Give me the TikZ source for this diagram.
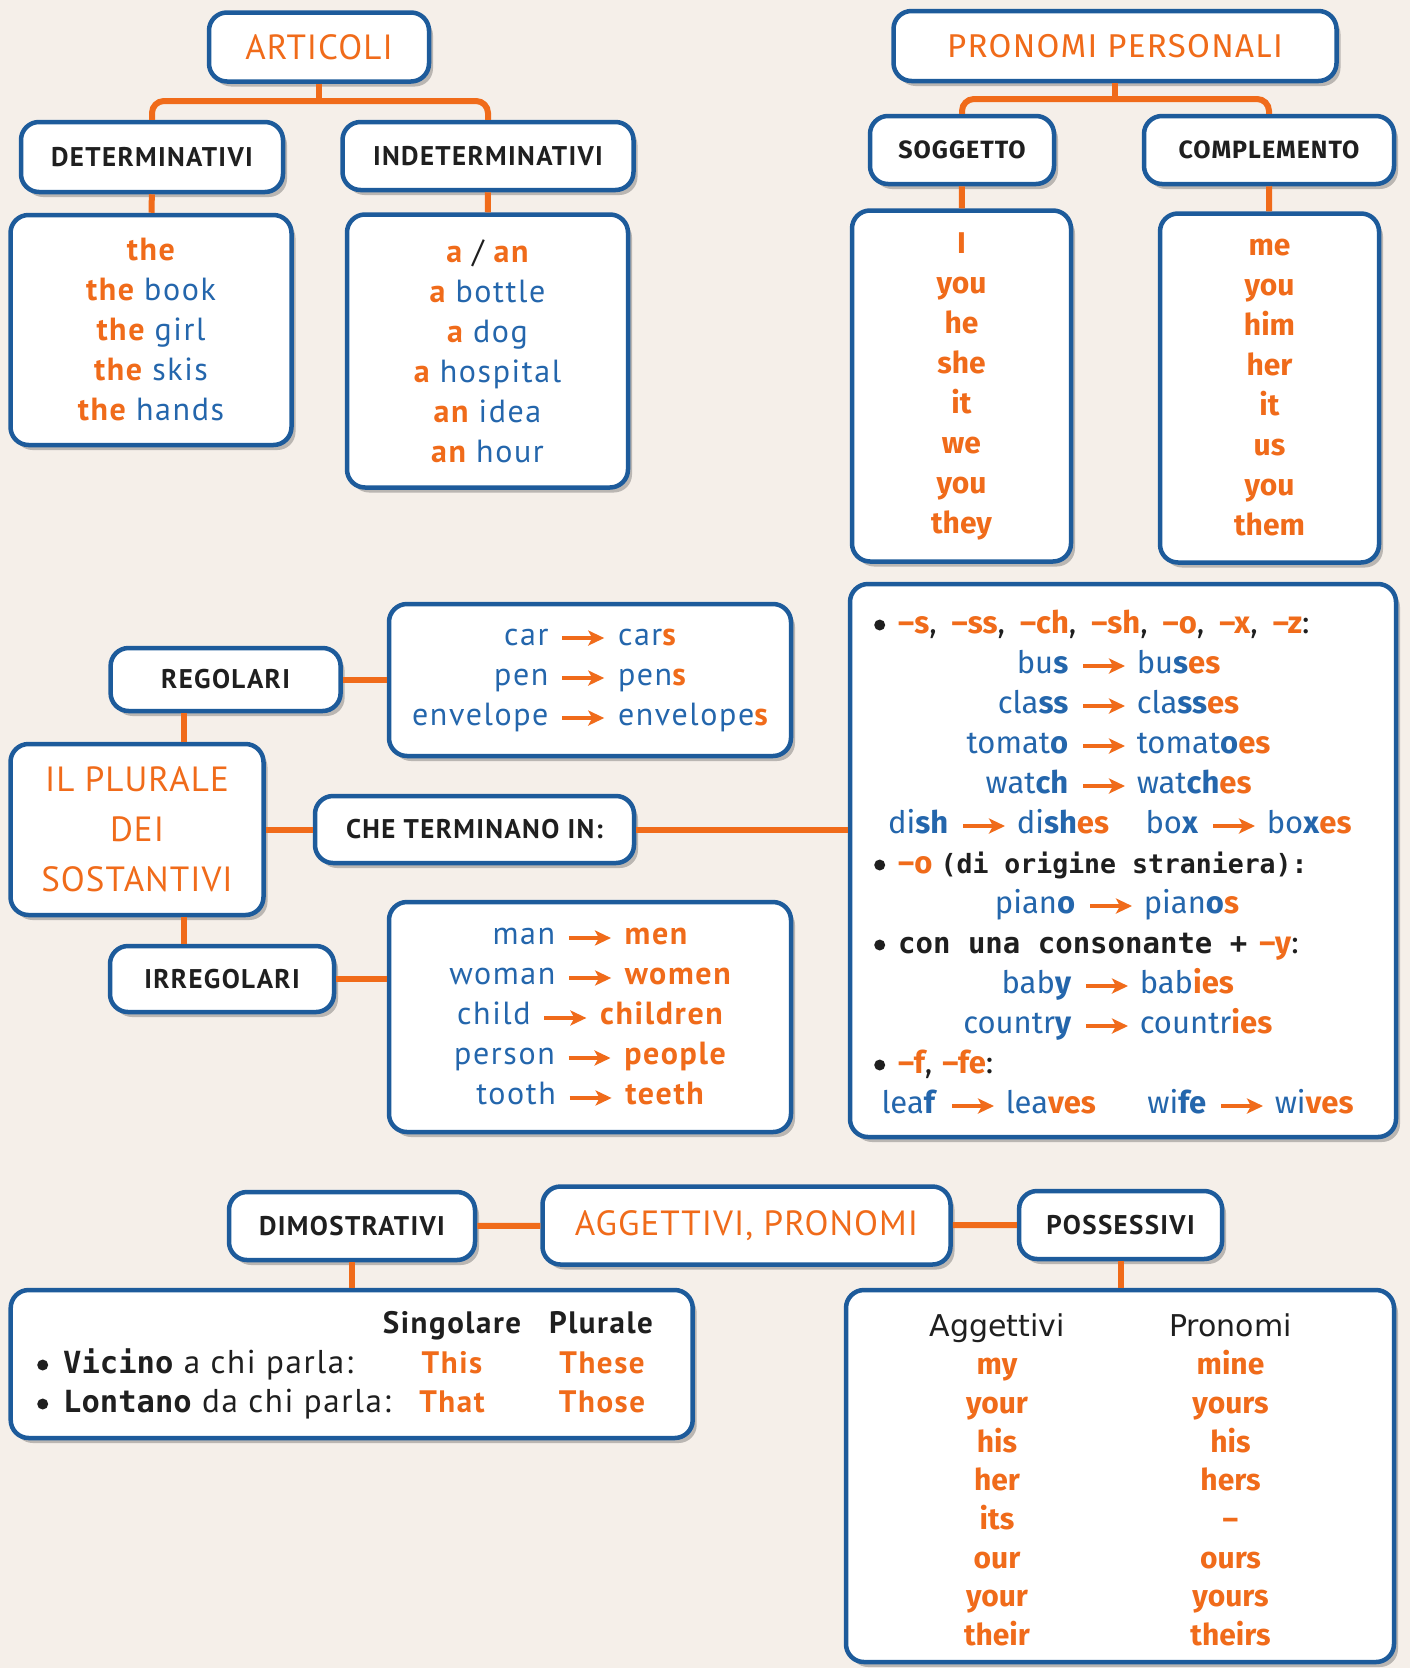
\documentclass[tikz,border=0pt]{standalone}
\usepackage{fontspec}
\setmainfont{PT Sans}[LetterSpace=5]
\newfontfamily\capsfont{PT Sans}[LetterSpace=3]
\newfontfamily\headfont{PT Sans}[LetterSpace=5]
\newfontfamily\widefont{Fira Sans}
\newfontfamily\widecaps{Fira Sans}[LetterSpace=4]
\newfontfamily\monofont{DejaVu Sans Mono}
\newfontfamily\colfont{DejaVu Sans}
\usetikzlibrary{arrows.meta,shadows}

\definecolor{paper}{HTML}{F5EFE9}
\definecolor{frame}{HTML}{1D5B9B}
\definecolor{accent}{HTML}{F06B1A}
\definecolor{word}{HTML}{2466AC}
\definecolor{ink}{HTML}{1F1F1F}
\definecolor{shade}{HTML}{BAB6B2}

\newcommand\orn[1]{{\color{accent}\bfseries#1}}
\newcommand\blu[1]{{\color{word}#1}}
\newcommand\parrow{\tikz[baseline=-7pt]\draw[accent,line width=3.5pt,-{Stealth[length=16pt,width=15pt,inset=4pt]}] (0pt,0pt) -- (42pt,0pt);}
\newcommand\dotmark{\tikz[baseline=-8pt]\fill[ink] (0pt,0pt) circle (5.5pt);}
\newcommand\pair[2]{#1\hspace{12pt}\parrow\hspace{12pt}#2}
\newcommand\arrowpair[2]{\llap{#1\hspace{13pt}}\parrow\rlap{\hspace{10pt}#2}}

\tikzset{
  box/.style={draw=frame,line width=4.5pt,fill=white,rounded corners=18pt,inner sep=0pt,
    drop shadow={shadow xshift=4pt,shadow yshift=-5pt,fill=shade,opacity=1}},
  title/.style={box,text=accent,align=center,font=\capsfont\fontsize{35}{50}\selectfont},
  head/.style={box,text=ink,font=\headfont\bfseries\fontsize{27}{30}\selectfont},
  widehead/.style={box,text=ink,font=\widecaps\bfseries\fontsize{25}{28}\selectfont},
  list/.style={box,align=center,text=ink,font=\fontsize{32}{40}\selectfont},
  widelist/.style={box,align=center,text=accent,font=\widefont\bfseries\fontsize{30}{40}\selectfont},
  link/.style={draw=accent,line width=6pt},
  row/.style={inner sep=0pt,anchor=base,text=word,font=\widefont\fontsize{31}{40}\selectfont},
  bulletrow/.style={row,anchor=base west,text=ink},
  cell/.style={inner sep=0pt,anchor=base,text=ink,font=\fontsize{33}{38}\selectfont},
  headcell/.style={cell,font=\bfseries\fontsize{31}{38}\selectfont},
  pick/.style={cell,text=accent,font=\bfseries\fontsize{31}{38}\selectfont},
  column/.style={inner sep=0pt,anchor=north,align=center,text=accent,font=\widefont\bfseries\fontsize{30}{38.7}\selectfont},
}

\begin{document}
\begin{tikzpicture}[x=1pt,y=-1pt]
\useasboundingbox (0,0) rectangle (1410,1668);
\fill[paper] (0,0) rectangle (1410,1668);

\node[title,minimum width=220pt,minimum height=69pt] (art) at (319,47) {ARTICOLI};
\node[head,minimum width=262pt,minimum height=70pt] (det) at (152,157) {DETERMINATIVI};
\node[head,minimum width=291pt,minimum height=68pt] (indet) at (488,156) {INDETERMINATIVI};
\node[list,minimum width=281pt,minimum height=230pt] (detlist) at (151,330)
  {\orn{the}\\\orn{the} \blu{book}\\\orn{the} \blu{girl}\\\orn{the} \blu{skis}\\\orn{the} \blu{hands}};
\node[list,minimum width=281pt,minimum height=273pt] (indetlist) at (487.5,351)
  {\orn{a}\hspace{10pt}/\hspace{10pt}\orn{an}\\\orn{a} \blu{bottle}\\\orn{a} \blu{dog}\\\orn{a} \blu{hospital}\\\orn{an} \blu{idea}\\\orn{an} \blu{hour}};

\node[title,font=\widecaps\fontsize{33}{36}\selectfont,minimum width=443pt,minimum height=70pt] (pron) at (1115,46) {PRONOMI PERSONALI};
\node[widehead,minimum width=184pt,minimum height=68pt] (sogg) at (962,150) {SOGGETTO};
\node[widehead,minimum width=250pt,minimum height=68pt] (compl) at (1269,150) {COMPLEMENTO};
\node[widelist,minimum width=219pt,minimum height=351pt] (sogglist) at (961.5,386)
  {I\\you\\he\\she\\it\\we\\you\\they};
\node[widelist,minimum width=219pt,minimum height=349pt] (compllist) at (1269.5,388)
  {me\\you\\him\\her\\it\\us\\you\\them};

\node[head,minimum width=230pt,minimum height=63pt] (reg) at (225.6,679.5) {REGOLARI};
\node[title,minimum width=253pt,minimum height=171pt] (plural) at (137,829.5) {IL PLURALE\\DEI\\SOSTANTIVI};
\node[head,minimum width=224pt,minimum height=66pt] (irr) at (222,979) {IRREGOLARI};
\node[head,minimum width=319pt,minimum height=67pt] (ending) at (474.5,829.5) {CHE TERMINANO IN:};
\node[list,minimum width=402pt,minimum height=152pt] (reglist) at (590,680)
  {\pair{\blu{car}}{\blu{car}\orn{s}}\\\pair{\blu{pen}}{\blu{pen}\orn{s}}\\\pair{\blu{envelope}}{\blu{envelope}\orn{s}}};
\node[list,minimum width=402pt,minimum height=230pt] (irrlist) at (590,1017)
  {\pair{\blu{man}}{\orn{men}}\\\pair{\blu{woman}}{\orn{women}}\\\pair{\blu{child}}{\orn{children}}\\\pair{\blu{person}}{\orn{people}}\\\pair{\blu{tooth}}{\orn{teeth}}};
\node[box,minimum width=546pt,minimum height=553pt] (endlist) at (1123,860.5) {};

\node[bulletrow] (ruleone) at (874,633) {\dotmark\hspace{13pt}\orn{–s},\hspace{15pt}\orn{–ss},\hspace{15pt}\orn{–ch},\hspace{15pt}\orn{–sh},\hspace{15pt}\orn{–o},\hspace{15pt}\orn{–x},\hspace{15pt}\orn{–z}:};
\node[row] (bus) at (1104,673) {\arrowpair{bu\textbf{s}}{bu\textbf{s}\orn{es}}};
\node[row] (class) at (1104,713) {\arrowpair{cla\textbf{ss}}{cla\textbf{ss}\orn{es}}};
\node[row] (tomato) at (1104,753) {\arrowpair{tomat\textbf{o}}{tomat\textbf{o}\orn{es}}};
\node[row] (watch) at (1104,793) {\arrowpair{wat\textbf{ch}}{wat\textbf{ch}\orn{es}}};
\node[row] (dish) at (984,833) {\arrowpair{di\textbf{sh}}{di\textbf{sh}\orn{es}}};
\node[row] (boxes) at (1234,833) {\arrowpair{bo\textbf{x}}{bo\textbf{x}\orn{es}}};
\node[bulletrow] (ruletwo) at (874,873) {\dotmark\hspace{13pt}\orn{–o} {\monofont\bfseries\fontsize{26.5}{40}\selectfont(di origine straniera):}};
\node[row] (piano) at (1111,913) {\arrowpair{pian\textbf{o}}{pian\textbf{o}\orn{s}}};
\node[bulletrow] (rulethree) at (874,953) {\dotmark\hspace{13pt}{\monofont\bfseries\fontsize{29}{40}\selectfont con una consonante +}\hspace{12pt}\orn{–y}:};
\node[row] (baby) at (1107,993) {\arrowpair{bab\textbf{y}}{bab\orn{ies}}};
\node[row] (country) at (1107,1033) {\arrowpair{countr\textbf{y}}{countr\orn{ies}}};
\node[bulletrow] (rulefour) at (874,1073) {\dotmark\hspace{13pt}\orn{–f},\hspace{10pt}\orn{–fe}:};
\node[row] (leaf) at (973,1113) {\arrowpair{lea\textbf{f}}{lea\orn{ves}}};
\node[row] (wife) at (1242,1113) {\arrowpair{wi\textbf{fe}}{wi\orn{ves}}};

\node[head,minimum width=246pt,minimum height=68pt] (dimo) at (352,1226) {DIMOSTRATIVI};
\node[title,minimum width=408pt,minimum height=78pt] (aggpron) at (746.5,1225.5) {AGGETTIVI, PRONOMI};
\node[head,minimum width=203pt,minimum height=68pt] (poss) at (1120.6,1225) {POSSESSIVI};
\node[box,minimum width=682pt,minimum height=148pt] (dimlist) at (351.7,1364) {};
\node[box,minimum width=548pt,minimum height=372pt] (posslist) at (1120,1476) {};

\node[headcell] (sing) at (452,1333) {Singolare};
\node[headcell] (plur) at (601,1333) {Plurale};
\node[cell,anchor=base west] (near) at (37,1373) {\dotmark\hspace{15pt}{\monofont\bfseries\fontsize{30.5}{38}\selectfont Vicino} a chi parla:};
\node[pick] (this) at (452,1373) {This};
\node[pick] (these) at (602,1373) {These};
\node[cell,anchor=base west] (far) at (37,1412) {\dotmark\hspace{15pt}{\monofont\bfseries\fontsize{30.5}{38}\selectfont Lontano} da chi parla:};
\node[pick] (that) at (452,1412) {That};
\node[pick] (those) at (602,1412) {Those};

\node[column] (aggcol) at (997,1313)
  {{\colfont\mdseries\color{ink}Aggettivi}\\my\\your\\his\\her\\its\\our\\your\\their};
\node[column] (proncol) at (1230.5,1313)
  {{\colfont\mdseries\color{ink}Pronomi}\\mine\\yours\\his\\hers\\–\\ours\\yours\\theirs};

\coordinate (artj) at (319,101);
\draw[link] (art.south) -- (artj);
\draw[link,rounded corners=12pt] (det.north) |- (artj) -| (indet.north);
\draw[link] (det) -- (detlist);
\draw[link] (indet) -- (indetlist);
\coordinate (pronj) at (1115,99);
\draw[link] (pron.south) -- (pronj);
\draw[link,rounded corners=12pt] (sogg.north) |- (pronj) -| (compl.north);
\draw[link] (sogg) -- (sogglist);
\draw[link] (compl) -- (compllist);

\coordinate (regfoot) at ([xshift=76pt]reg.south west);
\coordinate (irrtop) at ([xshift=76pt]irr.north west);
\draw[link] (regfoot) -- (regfoot |- plural.north);
\draw[link] (irrtop) -- (irrtop |- plural.south);
\draw[link] (reg.east) -- (reg.east -| reglist.west);
\draw[link] (irr.east) -- (irr.east -| irrlist.west);
\draw[link] (plural) -- (ending);
\draw[link] (ending.east) -- (ending.east -| endlist.west);

\draw[link] (dimo) -- (aggpron);
\draw[link] (aggpron) -- (poss);
\draw[link] (dimo.south) -- (dimo.south |- dimlist.north);
\draw[link] (poss.south) -- (poss.south |- posslist.north);
\end{tikzpicture}
\end{document}
